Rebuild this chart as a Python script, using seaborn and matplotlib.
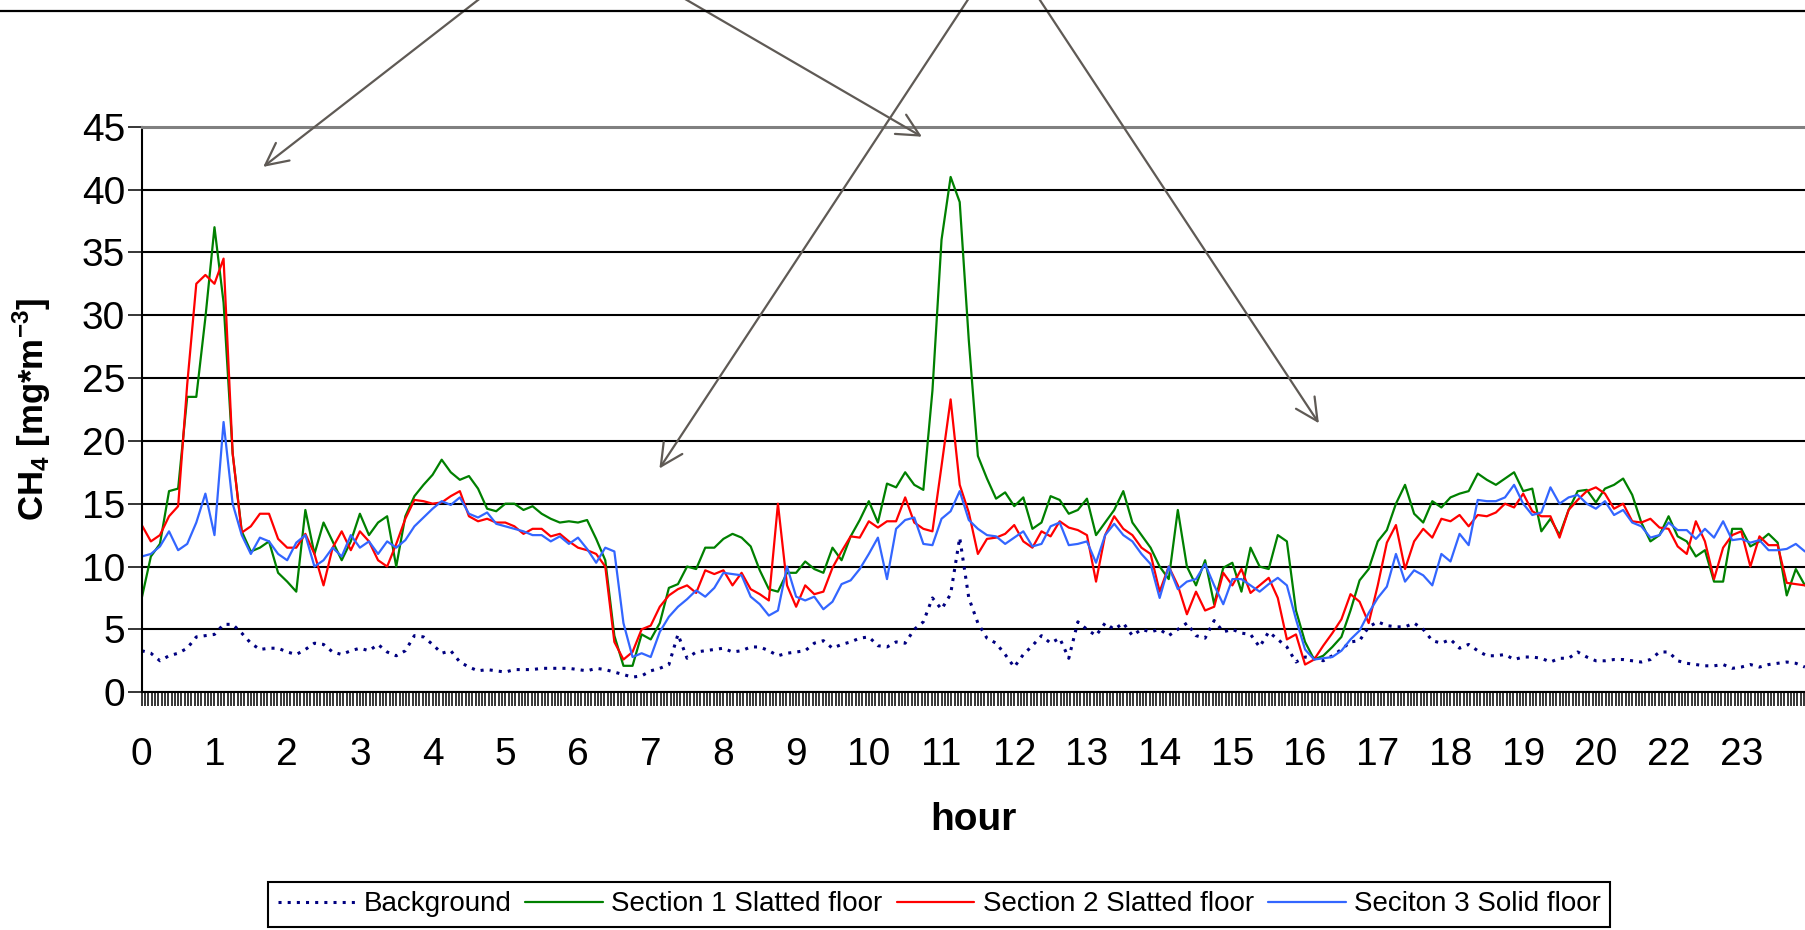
import numpy as np
import pandas as pd
import seaborn as sns
import matplotlib.pyplot as plt
from matplotlib.lines import Line2D
from matplotlib.ticker import MultipleLocator, FixedLocator

# readings per hour label on the category axis
SAMPLES_PER_STEP = 8

# the hour labels as printed under the axis (21 is not shown in the source)
hour_labels = ['0', '1', '2', '3', '4', '5', '6', '7', '8', '9', '10', '11',
               '12', '13', '14', '15', '16', '17', '18', '19', '20', '22', '23']

background = [
    3.3, 3.1, 2.5, 2.9, 3.1, 3.5, 4.4, 4.5,
    4.6, 5.4, 5.4, 4.7, 3.9, 3.4, 3.5, 3.5,
    3.2, 3.0, 3.4, 3.9, 3.8, 3.2, 3.0, 3.3,
    3.5, 3.3, 3.8, 3.2, 2.9, 3.3, 4.5, 4.4,
    3.8, 3.1, 3.3, 2.4, 2.0, 1.7, 1.8, 1.7,
    1.6, 1.8, 1.8, 1.8, 1.9, 1.9, 1.9, 1.9,
    1.8, 1.7, 1.9, 1.8, 1.6, 1.4, 1.2, 1.3,
    1.7, 1.9, 2.2, 4.6, 2.7, 3.2, 3.3, 3.4,
    3.5, 3.2, 3.3, 3.6, 3.6, 3.3, 2.9, 3.1,
    3.2, 3.3, 3.9, 4.1, 3.5, 3.8, 4.0, 4.3,
    4.4, 3.7, 3.6, 4.0, 3.9, 5.0, 5.6, 7.5,
    6.6, 7.8, 12.3, 7.5, 5.5, 4.3, 3.9, 3.0,
    2.0, 3.0, 3.7, 4.5, 3.9, 4.3, 2.7, 5.6,
    5.0, 4.5, 5.5, 5.0, 5.5, 4.5, 5.0, 4.8,
    5.0, 4.5, 5.0, 5.5, 4.5, 4.3, 5.7, 4.8,
    5.0, 4.7, 4.6, 3.6, 4.8, 4.2, 3.6, 2.4,
    2.8, 2.7, 2.5, 2.9, 3.4, 4.0, 4.1, 5.2,
    5.6, 5.3, 5.2, 5.2, 5.5, 5.0, 4.1, 3.9,
    4.2, 3.5, 3.8, 3.3, 2.9, 2.9, 3.0, 2.6,
    2.8, 2.8, 2.7, 2.4, 2.7, 2.7, 3.2, 2.8,
    2.5, 2.5, 2.6, 2.6, 2.5, 2.4, 2.6, 3.2,
    3.2, 2.5, 2.3, 2.2, 2.1, 2.1, 2.2, 1.9,
    2.0, 2.2, 2.0, 2.2, 2.3, 2.4, 2.3, 2.0,
]

section1 = [
    7.5, 10.8, 11.8, 16.0, 16.2, 23.5, 23.5, 29.8,
    37.0, 31.0, 19.0, 12.8, 11.2, 11.5, 12.0, 9.5,
    8.8, 8.0, 14.5, 11.0, 13.5, 12.0, 10.5, 12.0,
    14.2, 12.5, 13.5, 14.0, 10.0, 14.0, 15.6, 16.5,
    17.3, 18.5, 17.5, 16.9, 17.2, 16.2, 14.6, 14.4,
    15.0, 15.0, 14.5, 14.8, 14.2, 13.8, 13.5, 13.6,
    13.5, 13.7, 12.2, 10.5, 4.5, 2.1, 2.1, 4.6,
    4.2, 5.5, 8.3, 8.6, 10.0, 9.8, 11.5, 11.5,
    12.2, 12.6, 12.3, 11.6, 9.7, 8.2, 8.0, 9.5,
    9.5, 10.4, 9.8, 9.5, 11.5, 10.5, 12.4, 13.7,
    15.2, 13.5, 16.6, 16.3, 17.5, 16.5, 16.1, 24.0,
    36.0, 41.0, 39.0, 28.0, 18.8, 17.0, 15.4, 15.9,
    14.8, 15.5, 13.0, 13.5, 15.6, 15.3, 14.2, 14.5,
    15.4, 12.5, 13.5, 14.5, 16.0, 13.5, 12.5, 11.5,
    10.0, 9.0, 14.5, 10.0, 8.5, 10.5, 7.0, 9.9,
    10.3, 8.0, 11.5, 10.0, 9.8, 12.5, 12.0, 6.5,
    4.0, 2.6, 2.9, 3.6, 4.4, 6.5, 8.9, 9.8,
    12.0, 12.9, 15.0, 16.5, 14.2, 13.5, 15.2, 14.7,
    15.5, 15.8, 16.0, 17.4, 16.9, 16.5, 17.0, 17.5,
    16.0, 16.2, 12.8, 13.8, 12.5, 14.5, 16.0, 16.1,
    15.1, 16.2, 16.5, 17.0, 15.7, 13.5, 12.0, 12.5,
    14.0, 12.4, 12.0, 10.8, 11.3, 8.8, 8.8, 13.0,
    13.0, 11.6, 12.0, 12.6, 11.9, 7.7, 9.8, 8.5,
]

section2 = [
    13.3, 12.0, 12.5, 14.0, 14.8, 24.5, 32.5, 33.2,
    32.5, 34.5, 19.0, 12.7, 13.2, 14.2, 14.2, 12.2,
    11.5, 11.5, 12.6, 11.0, 8.5, 11.5, 12.8, 11.3,
    12.8, 12.0, 10.5, 10.0, 11.8, 13.8, 15.3, 15.2,
    15.0, 15.1, 15.6, 16.0, 14.0, 13.6, 13.8, 13.5,
    13.5, 13.2, 12.6, 13.0, 13.0, 12.4, 12.6, 12.0,
    11.5, 11.3, 11.0, 10.0, 4.0, 2.6, 3.2, 5.0,
    5.3, 6.8, 7.7, 8.2, 8.5, 7.9, 9.7, 9.4,
    9.7, 8.5, 9.5, 8.2, 7.8, 7.3, 15.0, 8.5,
    6.8, 8.5, 7.8, 8.0, 9.9, 11.2, 12.4, 12.3,
    13.6, 13.1, 13.6, 13.6, 15.5, 13.5, 13.0, 12.8,
    18.0, 23.3, 16.5, 14.3, 11.0, 12.2, 12.3, 12.6,
    13.3, 12.0, 11.5, 12.8, 12.4, 13.6, 13.1, 12.9,
    12.5, 8.8, 12.5, 14.0, 13.0, 12.5, 11.5, 11.0,
    8.0, 10.0, 8.5, 6.2, 8.0, 6.5, 6.8, 9.5,
    8.5, 9.8, 7.9, 8.5, 9.1, 7.5, 4.2, 4.6,
    2.2, 2.6, 3.7, 4.7, 5.8, 7.8, 7.2, 5.5,
    8.5, 11.9, 13.3, 9.8, 12.0, 13.0, 12.3, 13.8,
    13.6, 14.1, 13.2, 14.1, 14.0, 14.3, 15.0, 14.7,
    15.8, 14.4, 14.0, 14.0, 12.3, 14.5, 15.3, 16.0,
    16.3, 15.8, 14.6, 15.0, 13.6, 13.5, 13.8, 13.1,
    13.0, 11.6, 11.0, 13.6, 12.0, 9.0, 11.5, 12.5,
    12.8, 10.0, 12.4, 11.7, 11.7, 8.7, 8.6, 8.5,
]

section3 = [
    10.8, 11.0, 11.6, 12.8, 11.3, 11.8, 13.5, 15.8,
    12.5, 21.5, 15.0, 12.5, 11.0, 12.3, 12.0, 11.0,
    10.5, 11.9, 12.5, 10.0, 10.5, 11.5, 10.8, 12.5,
    11.5, 12.0, 11.0, 12.0, 11.5, 12.1, 13.2, 13.9,
    14.6, 15.2, 14.9, 15.5, 14.2, 13.9, 14.3, 13.4,
    13.2, 13.0, 12.8, 12.5, 12.5, 12.0, 12.4, 11.8,
    12.3, 11.4, 10.3, 11.5, 11.2, 5.5, 2.8, 3.1,
    2.8, 4.8, 6.0, 6.8, 7.4, 8.1, 7.6, 8.3,
    9.5, 9.4, 9.3, 7.6, 7.0, 6.1, 6.5, 10.0,
    7.6, 7.3, 7.6, 6.6, 7.2, 8.6, 8.9, 9.8,
    11.0, 12.3, 9.0, 13.0, 13.7, 13.9, 11.8, 11.7,
    13.8, 14.4, 16.0, 13.7, 13.0, 12.5, 12.4, 11.8,
    12.3, 12.8, 11.6, 11.8, 13.2, 13.5, 11.7, 11.8,
    12.0, 10.3, 12.5, 13.4, 12.5, 12.0, 11.0, 10.2,
    7.5, 10.0, 8.2, 8.8, 9.0, 10.2, 8.5, 7.0,
    9.0, 9.0, 8.5, 8.0, 8.6, 9.1, 8.5, 5.8,
    3.4, 2.6, 2.7, 2.8, 3.3, 4.2, 4.9, 6.3,
    7.5, 8.4, 11.0, 8.8, 9.7, 9.3, 8.5, 11.0,
    10.4, 12.6, 11.7, 15.3, 15.2, 15.2, 15.5, 16.5,
    15.0, 14.1, 14.3, 16.3, 15.0, 15.5, 15.7, 15.0,
    14.6, 15.2, 14.1, 14.5, 13.5, 13.2, 12.3, 12.5,
    13.5, 12.9, 12.9, 12.2, 13.0, 12.3, 13.6, 12.1,
    12.2, 11.9, 12.1, 11.3, 11.3, 11.4, 11.8, 11.2,
]

position = np.arange(len(background)) / SAMPLES_PER_STEP

df = pd.DataFrame({
    "position": position,
    "Background": background,
    "Section 1 Slatted floor": section1,
    "Section 2 Slatted floor": section2,
    "Seciton 3 Solid floor": section3,
})

sns.set_theme(style="ticks")
plt.rcParams['font.family'] = ['Liberation Sans', 'DejaVu Sans']
plt.rcParams['mathtext.fontset'] = 'custom'
plt.rcParams['mathtext.rm'] = 'Liberation Sans'
plt.rcParams['mathtext.bf'] = 'Liberation Sans:bold'

fig = plt.figure(figsize=(18.06, 9.30), dpi=100)
ax = fig.add_axes([0.0785, 0.2557, 0.9215, 0.6081])

series = [
    ("Background", "#000080", (0, (1, 2)), 2.2),
    ("Section 1 Slatted floor", "#008000", "-", 1.6),
    ("Section 2 Slatted floor", "#FF0000", "-", 1.6),
    ("Seciton 3 Solid floor", "#3366FF", "-", 1.6),
]
for name, color, ls, lw in series:
    sns.lineplot(data=df, x="position", y=name, ax=ax, color=color,
                 linestyle=ls, linewidth=lw, label=name, errorbar=None)

handles, labels = ax.get_legend_handles_labels()
if ax.get_legend() is not None:
    ax.get_legend().remove()

ax.set_xlim(0, 22.89)
ax.set_ylim(0, 45)
ax.set_yticks(range(0, 46, 5))
ax.xaxis.set_major_locator(FixedLocator(range(len(hour_labels))))
ax.set_xticklabels(hour_labels)
ax.xaxis.set_minor_locator(MultipleLocator(1 / 22))

ax.tick_params(axis='both', which='both', direction='out', length=10,
               width=1.1, color='black', labelsize=28, labelcolor='black')
ax.tick_params(axis='x', which='major', pad=22)
ax.tick_params(axis='y', which='major', pad=2)

ax.set_axisbelow(True)
ax.yaxis.grid(True, color='black', linewidth=1.5)
ax.xaxis.grid(False)

ax.spines['right'].set_visible(False)
ax.spines['top'].set_color('#808080')
ax.spines['top'].set_linewidth(2.2)
for side in ('left', 'bottom'):
    ax.spines[side].set_color('black')
    ax.spines[side].set_linewidth(1.5)

ax.set_xlabel("hour", fontsize=28, fontweight='bold', color='black')
ax.xaxis.label.set_va('center')
ax.xaxis.set_label_coords(0.5, -0.226)
ax.set_ylabel("")
fig.text(0.0175, 0.560, r"CH$_\mathbf{4}$ [mg*m$^\mathbf{-3}$]", rotation=90,
         ha='center', va='center', fontsize=25, fontweight='bold', color='black')

# border of the text box that sits above the chart
fig.add_artist(Line2D([0, 1], [1 - 11.5 / 930] * 2, transform=fig.transFigure,
                      color='black', linewidth=1.6))

# arrows coming down from the (cropped) annotation boxes
arrow_tips = [(1.67, 41.8), (10.73, 44.2), (7.12, 17.8), (16.19, 21.4)]
arrow_starts = [(0.2932, 1.043), (0.3422, 1.043), (0.5504, 1.043), (0.5612, 1.043)]
for tip, start in zip(arrow_tips, arrow_starts):
    ax.annotate("", xy=tip, xycoords='data', xytext=start, textcoords='figure fraction',
                annotation_clip=False,
                arrowprops=dict(arrowstyle='->,head_length=0.8,head_width=0.4',
                                color='#5f5a55', lw=1.6, mutation_scale=20,
                                shrinkA=0, shrinkB=0))

leg = fig.legend(handles, labels, loc='lower center', bbox_to_anchor=(0.52, 0.003),
                 ncol=4, frameon=True, fancybox=False, edgecolor='black',
                 fontsize=20, handlelength=2.8, handletextpad=0.3,
                 columnspacing=0.5, borderpad=0.35, borderaxespad=0, framealpha=1)
leg.get_frame().set_linewidth(1.5)
for text in leg.get_texts():
    text.set_color('black')

fig.savefig("out.png", dpi=100)
